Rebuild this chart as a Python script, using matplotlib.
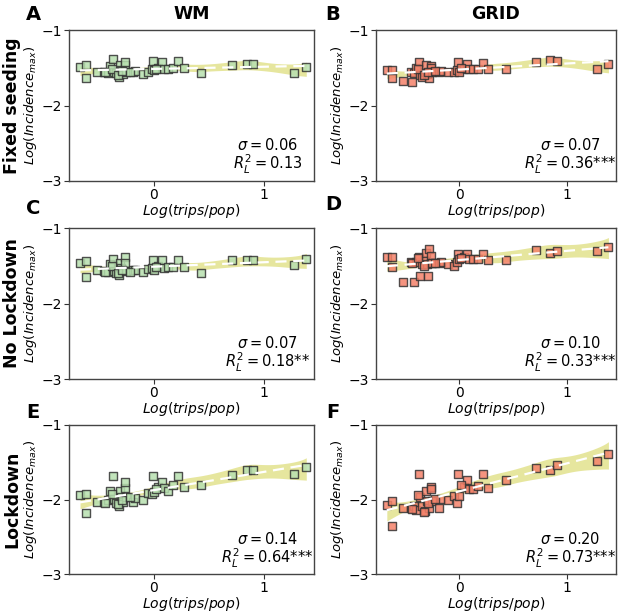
import matplotlib
matplotlib.use("Agg")
import matplotlib.pyplot as plt
import numpy as np

# shared x: Log(trips/pop) per city
x = np.array([-0.67, -0.62, -0.62, -0.52, -0.45, -0.42, -0.40, -0.37, -0.36, -0.34,
              -0.32, -0.31, -0.30, -0.28, -0.26, -0.26, -0.25, -0.19, -0.17, -0.10,
              -0.05, -0.02, -0.01, 0.04, 0.07, 0.09, 0.13, 0.17, 0.22, 0.27,
              0.43, 0.71, 0.84, 0.90, 1.27, 1.38,
              -0.44, -0.38, -0.33, -0.29, -0.22, 0.00, 0.02])

# Log(Incidence_max) per panel
y_wm_fixed = [-1.49, -1.47, -1.64, -1.56, -1.56, -1.57, -1.48, -1.38, -1.56, -1.57,
              -1.62, -1.46, -1.53, -1.58, -1.46, -1.42, -1.55, -1.56, -1.54, -1.58,
              -1.55, -1.52, -1.41, -1.50, -1.43, -1.52, -1.52, -1.50, -1.41, -1.50,
              -1.57, -1.47, -1.45, -1.45, -1.57, -1.49,
              -1.55, -1.51, -1.59, -1.54, -1.56, -1.53, -1.51]
y_grid_fixed = [-1.53, -1.53, -1.63, -1.68, -1.55, -1.57, -1.50, -1.42, -1.60, -1.62,
                -1.56, -1.47, -1.58, -1.63, -1.48, -1.50, -1.55, -1.55, -1.54, -1.56,
                -1.56, -1.53, -1.43, -1.52, -1.45, -1.52, -1.52, -1.51, -1.44, -1.51,
                -1.51, -1.43, -1.40, -1.41, -1.52, -1.45,
                -1.69, -1.52, -1.60, -1.55, -1.54, -1.55, -1.50]
y_wm_nolock = [-1.47, -1.44, -1.65, -1.56, -1.57, -1.58, -1.48, -1.41, -1.57, -1.60,
               -1.62, -1.46, -1.53, -1.56, -1.39, -1.46, -1.57, -1.56, -1.55, -1.58,
               -1.54, -1.53, -1.42, -1.50, -1.42, -1.53, -1.51, -1.52, -1.42, -1.51,
               -1.59, -1.43, -1.43, -1.43, -1.49, -1.41,
               -1.58, -1.50, -1.59, -1.55, -1.58, -1.55, -1.52]
y_grid_nolock = [-1.39, -1.38, -1.52, -1.72, -1.45, -1.72, -1.45, -1.38, -1.64, -1.48,
                 -1.42, -1.33, -1.48, -1.28, -1.37, -1.47, -1.46, -1.46, -1.45, -1.48,
                 -1.50, -1.45, -1.35, -1.39, -1.34, -1.41, -1.41, -1.41, -1.35, -1.43,
                 -1.42, -1.29, -1.33, -1.30, -1.31, -1.25,
                 -1.47, -1.40, -1.50, -1.63, -1.46, -1.41, -1.40]
y_wm_lock = [-1.94, -1.92, -2.18, -2.03, -2.04, -2.01, -1.88, -1.69, -1.99, -2.05,
             -2.09, -1.88, -1.96, -2.04, -1.85, -1.77, -1.97, -2.04, -1.98, -2.01,
             -1.91, -1.92, -1.69, -1.83, -1.76, -1.85, -1.88, -1.81, -1.68, -1.83,
             -1.81, -1.67, -1.61, -1.61, -1.66, -1.56,
             -2.05, -1.93, -2.06, -2.00, -1.97, -1.90, -1.86]
y_grid_lock = [-2.08, -2.02, -2.35, -2.11, -2.11, -2.09, -2.14, -1.66, -1.96, -2.09,
               -2.15, -1.88, -2.02, -2.11, -1.83, -1.86, -2.02, -2.11, -1.99, -2.00,
               -1.95, -2.05, -1.66, -1.83, -1.74, -1.86, -1.86, -1.82, -1.66, -1.84,
               -1.74, -1.58, -1.60, -1.54, -1.48, -1.39,
               -2.13, -1.94, -2.17, -2.05, -1.99, -1.95, -1.80]

panel_y = [[y_wm_fixed, y_grid_fixed],
           [y_wm_nolock, y_grid_nolock],
           [y_wm_lock, y_grid_lock]]
sigmas = [["0.06", "0.07"], ["0.07", "0.10"], ["0.14", "0.20"]]
r2 = [["0.13", "0.36"], ["0.18", "0.33"], ["0.64", "0.73"]]
stars = [["", "***"], ["**", "***"], ["***", "***"]]
row_labels = ["Fixed seeding", "No Lockdown", "Lockdown"]
col_titles = ["WM", "GRID"]
letters = [["A", "B"], ["C", "D"], ["E", "F"]]
face_colors = ["#b8e0b0", "#f4826a"]

W, H = 625, 614
fig = plt.figure(figsize=(W / 100, H / 100), dpi=100)

col_px = [(69, 314), (376, 616)]
row_px = [(30, 181), (228, 379), (425, 574)]
letter_px = [[(33, 14), (333, 14)], [(33, 209), (333, 205)], [(33, 412), (333, 412)]]


def local_band(xs, ys, grid, h=0.2):
    # gaussian-kernel local linear smoother with 95% band
    fits, ses = [], []
    b, a = np.polyfit(xs, ys, 1)
    s = np.std(ys - (a + b * xs), ddof=2)
    for g in grid:
        w = np.exp(-0.5 * ((xs - g) / h) ** 2)
        X = np.column_stack([np.ones_like(xs), xs - g])
        XtW = X.T * w
        L = np.linalg.solve(XtW @ X, XtW)[0]
        fits.append(L @ ys)
        ses.append(s * np.sqrt(np.sum(L ** 2)))
    return np.array(fits), 2.0 * np.array(ses)


for r in range(3):
    for c in range(2):
        x0, x1 = col_px[c]
        t0, t1 = row_px[r]
        ax = fig.add_axes([x0 / W, 1 - t1 / H, (x1 - x0) / W, (t1 - t0) / H])
        ys = np.array(panel_y[r][c])
        grid = np.linspace(x.min(), x.max(), 120)
        b, a = np.polyfit(x, ys, 1)
        sm, half = local_band(x, ys, grid)
        ax.fill_between(grid, sm - half, sm + half, color="#bfbf00", alpha=0.38, lw=0)
        ax.scatter(x, ys, marker="s", s=40, facecolor=face_colors[c],
                   edgecolor="#333333", linewidth=1.0, alpha=0.85, zorder=3)
        ax.plot(grid, a + b * grid, color="white", ls=(0, (5, 3)), lw=1.6, zorder=4)

        ax.set_xlim(-0.77, 1.45)
        ax.set_ylim(-3, -1)
        ax.set_xticks([0, 1])
        ax.set_yticks([-3, -2, -1])
        ax.tick_params(labelsize=10, length=3.5, pad=1.5, color="#333333")
        for sp in ax.spines.values():
            sp.set_color("#444444")
            sp.set_linewidth(1.0)
        ax.set_xlabel(r"$Log(trips/pop)$", fontsize=10, labelpad=0)
        ax.set_ylabel(r"$Log(Incidence_{max})$", fontsize=9.5, labelpad=2)
        ax.text(0.81, 0.16, r"$\sigma = %s$" % sigmas[r][c] + "\n"
                + r"$R_L^2 = %s$" % r2[r][c] + stars[r][c],
                transform=ax.transAxes, ha="center", va="center",
                multialignment="center", fontsize=10.5, linespacing=1.0)

        lx, ly = letter_px[r][c]
        fig.text(lx / W, 1 - ly / H, letters[r][c], fontsize=14, fontweight="bold",
                 ha="center", va="center")

    t0, t1 = row_px[r]
    fig.text(12 / W, 1 - (t0 + t1) / 2 / H, row_labels[r], rotation=90,
             fontsize=12.5, fontweight="bold", ha="center", va="center")

for c in range(2):
    x0, x1 = col_px[c]
    fig.text((x0 + x1) / 2 / W, 1 - 14 / H, col_titles[c], fontsize=12.5,
             fontweight="bold", ha="center", va="center")

fig.savefig("out.png", dpi=100)
